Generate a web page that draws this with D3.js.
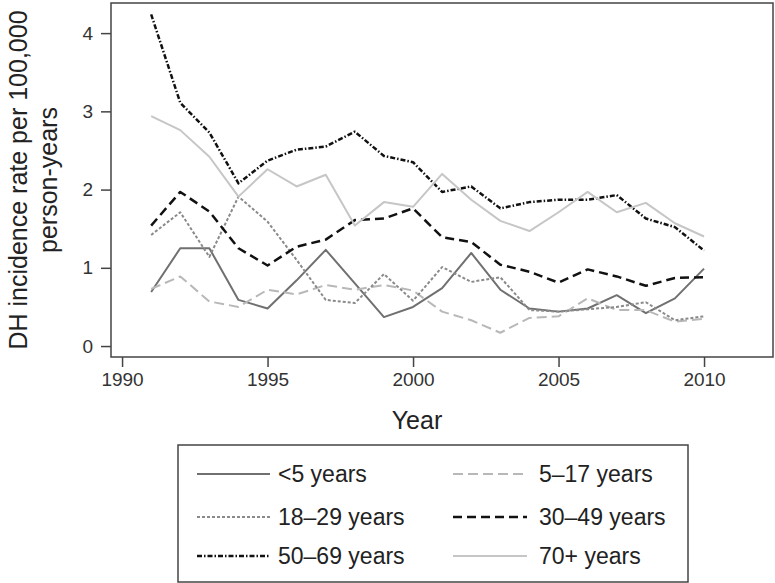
<!DOCTYPE html>
<html><head><meta charset="utf-8">
<script src="https://cdn.jsdelivr.net/npm/d3@7"></script>
<style>body{margin:0;background:#fff}svg{display:block;font-family:"Liberation Sans",Arial,sans-serif}</style>
</head><body><svg id="c" width="775" height="583"></svg>
<script>
const years = d3.range(1991, 2011);
const under5 = [0.69,1.25,1.25,0.59,0.48,0.84,1.23,0.80,0.37,0.50,0.74,1.19,0.72,0.48,0.44,0.48,0.65,0.42,0.61,0.99];
const y5to17 = [0.73,0.89,0.57,0.50,0.72,0.66,0.78,0.72,0.78,0.71,0.44,0.33,0.17,0.36,0.38,0.61,0.46,0.46,0.31,0.35];
const y18to29 = [1.42,1.71,1.14,1.91,1.59,1.10,0.59,0.55,0.92,0.58,1.01,0.82,0.88,0.46,0.44,0.47,0.50,0.56,0.33,0.38];
const y30to49 = [1.54,1.97,1.72,1.25,1.03,1.27,1.36,1.61,1.63,1.76,1.39,1.33,1.04,0.95,0.81,0.98,0.89,0.77,0.87,0.88];
const y50to69 = [4.24,3.11,2.73,2.08,2.37,2.51,2.55,2.74,2.43,2.35,1.97,2.04,1.76,1.84,1.87,1.87,1.93,1.63,1.52,1.22];
const y70plus = [2.94,2.76,2.42,1.91,2.26,2.04,2.19,1.54,1.84,1.78,2.20,1.87,1.60,1.47,1.71,1.97,1.71,1.83,1.57,1.40];
const seriesNames = ["<5 years","5\u201317 years","18\u201329 years","30\u201349 years","50\u201369 years","70+ years"];
const xTicks = [1990,1995,2000,2005,2010];
const yTicks = [0,1,2,3,4];

const styles = [
  {color:"#707070", dash:null, w:2},
  {color:"#b8b8b8", dash:"10,5", w:2},
  {color:"#8a8a8a", dash:"3,2", w:2},
  {color:"#111", dash:"9,5", w:2.5},
  {color:"#111", dash:"5,2,1.5,2", w:2.5},
  {color:"#c6c6c6", dash:null, w:2}
];
const data = [under5,y5to17,y18to29,y30to49,y50to69,y70plus];

const svg = d3.select("#c");
const L=111, T=3, R=773, B=357;
const x = d3.scaleLinear().domain([1989.62, 2012.37]).range([L,R]);
const y = d3.scaleLinear().domain([-0.14, 4.385]).range([B,T]);

svg.append("rect").attr("x",L).attr("y",T).attr("width",R-L).attr("height",B-T)
  .attr("fill","none").attr("stroke","#444").attr("stroke-width",1.5);

const xa = svg.append("g").attr("transform",`translate(0,${B})`)
  .call(d3.axisBottom(x).tickValues(xTicks).tickFormat(d3.format("d")).tickSize(10).tickPadding(6));
const ya = svg.append("g").attr("transform",`translate(${L},0)`)
  .call(d3.axisLeft(y).tickValues(yTicks).tickFormat(d3.format("d")).tickSize(10).tickPadding(8));
[xa,ya].forEach(a=>{
  a.select(".domain").remove();
  a.selectAll("line").attr("stroke","#444").attr("stroke-width",1.5);
  a.selectAll("text").attr("fill","#333").style("font-size","19px").style("font-family","Liberation Sans, Arial, sans-serif");
});

const line = d3.line().x((d,i)=>x(years[i])).y(d=>y(d));
data.forEach((s,k)=>{
  svg.append("path").datum(s).attr("d",line).attr("fill","none")
    .attr("stroke",styles[k].color).attr("stroke-width",styles[k].w)
    .attr("stroke-dasharray",styles[k].dash).attr("stroke-linejoin","round");
});

svg.append("text").attr("x",417).attr("y",429).attr("text-anchor","middle")
  .attr("fill","#222").style("font-size","25px").text("Year");
const yt = svg.append("text").attr("transform",`translate(0,${(T+B)/2}) rotate(-90)`)
  .attr("text-anchor","middle").attr("fill","#222").style("font-size","25px");
yt.append("tspan").attr("x",0).attr("y",27).text("DH incidence rate per 100,000");
yt.append("tspan").attr("x",0).attr("y",57).text("person-years");

svg.append("rect").attr("x",178).attr("y",445).attr("width",510).attr("height",137)
  .attr("fill","none").attr("stroke","#444").attr("stroke-width",1.5);
const rowsY=[474,517,556];
const colX=[{l0:197,l1:270,t:278},{l0:453,l1:527,t:539}];
seriesNames.forEach((n,k)=>{
  const c=colX[k%2], ry=rowsY[Math.floor(k/2)];
  svg.append("line").attr("x1",c.l0).attr("x2",c.l1).attr("y1",ry).attr("y2",ry)
    .attr("stroke",styles[k].color).attr("stroke-width",styles[k].w).attr("stroke-dasharray",styles[k].dash);
  svg.append("text").attr("x",c.t).attr("y",ry).attr("dy","0.35em").attr("fill","#222")
    .style("font-size","23px").text(n);
});
</script></body></html>
